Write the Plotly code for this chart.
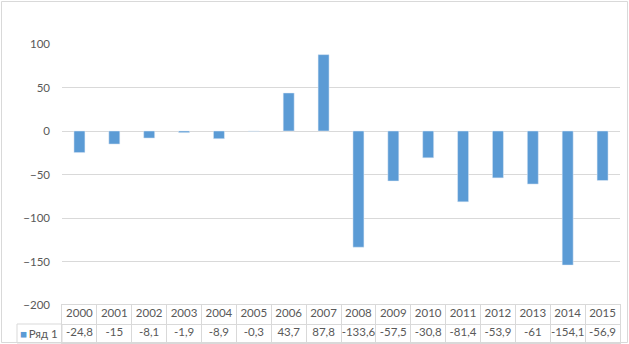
import plotly.graph_objects as go

years = ["2000", "2001", "2002", "2003", "2004", "2005", "2006", "2007",
         "2008", "2009", "2010", "2011", "2012", "2013", "2014", "2015"]
values = [-24.8, -15, -8.1, -1.9, -8.9, -0.3, 43.7, 87.8,
          -133.6, -57.5, -30.8, -81.4, -53.9, -61, -154.1, -56.9]
series_name = "Ряд 1"
y_ticks = [-200, -150, -100, -50, 0, 50, 100]

BAR = "#5b9bd5"
GRID = "#d9d9d9"
TXT = "#595959"
FONT = "Lato"
FS = 11.5
W, H = 629, 344

def fmt(v):
    return ("{:g}".format(v)).replace(".", ",")

ROW_HDR = "hdr"
ROW_VAL = "val"

fig = go.Figure()
fig.add_trace(go.Bar(x=years, y=values, marker_color=BAR, showlegend=False,
                     hoverinfo="x+y", xaxis="x", yaxis="y"))

# data table under the chart (second subplot with categorical axes)
fig.add_trace(go.Scatter(x=years, y=[ROW_HDR] * len(years), text=years,
                         mode="text", textfont=dict(family=FONT, size=FS, color=TXT),
                         showlegend=False, hoverinfo="skip", cliponaxis=False,
                         xaxis="x2", yaxis="y2"))
fig.add_trace(go.Scatter(x=years, y=[ROW_VAL] * len(years),
                         text=[fmt(v) for v in values],
                         mode="text", textfont=dict(family=FONT, size=FS, color=TXT),
                         showlegend=False, hoverinfo="skip", cliponaxis=False,
                         xaxis="x2", yaxis="y2"))

legend_label = '<span style="color:%s">■</span>\u2009%s' % (BAR, series_name)

fig.update_layout(
    width=W, height=H,
    margin=dict(l=0, r=0, t=0, b=0, pad=0, autoexpand=False),
    paper_bgcolor="white", plot_bgcolor="white",
    bargap=0.685,
    font=dict(family=FONT, size=FS, color=TXT),
    xaxis=dict(domain=[62 / W, 620 / W], anchor="y", showticklabels=False,
               automargin=False,
               showgrid=False, zeroline=False, showline=False, ticks="",
               categoryorder="array", categoryarray=years),
    yaxis=dict(domain=[39 / H, 300 / H], anchor="x", range=[-200, 100],
               tickvals=y_ticks, automargin=False,
               showgrid=True, gridcolor=GRID, gridwidth=1,
               zeroline=True, zerolinecolor=GRID, zerolinewidth=1,
               showline=False, ticks="", ticklabelstandoff=11,
               tickfont=dict(family=FONT, size=FS, color=TXT)),
    xaxis2=dict(domain=[62 / W, 620 / W], anchor="y2", showticklabels=False,
                automargin=False,
                categoryorder="array", categoryarray=years,
                range=[-0.5, len(years) - 0.5],
                showgrid=True, gridcolor=GRID, gridwidth=1, tickson="boundaries",
                showline=True, linecolor=GRID, linewidth=1, mirror=True,
                zeroline=False, ticks=""),
    yaxis2=dict(domain=[1 / H, 39 / H], anchor="x2", automargin=False,
                categoryorder="array", categoryarray=[ROW_VAL, ROW_HDR],
                range=[-0.5, 1.5],
                tickvals=[ROW_VAL, ROW_HDR], ticktext=[legend_label, ""],
                showgrid=True, gridcolor=GRID, gridwidth=1, tickson="boundaries",
                showline=True, linecolor=GRID, linewidth=1, mirror=True,
                zeroline=False, ticks="", ticklabelstandoff=1,
                tickfont=dict(family=FONT, size=FS, color=TXT)),
    shapes=[
        dict(type="rect", xref="paper", yref="paper",
             x0=1.5 / W, x1=627.5 / W, y0=1.5 / H, y1=342.5 / H,
             line=dict(color=GRID, width=1), fillcolor="rgba(0,0,0,0)",
             layer="below"),
        dict(type="rect", xref="paper", yref="y2 domain",
             x0=17 / W, x1=62 / W, y0=0, y1=0.5,
             line=dict(color=GRID, width=1), fillcolor="rgba(0,0,0,0)",
             layer="below"),
    ],
)

fig.write_html("out.html", config=dict(displayModeBar=False),
               post_script="document.body.style.margin='0px';document.body.style.overflow='hidden';")
